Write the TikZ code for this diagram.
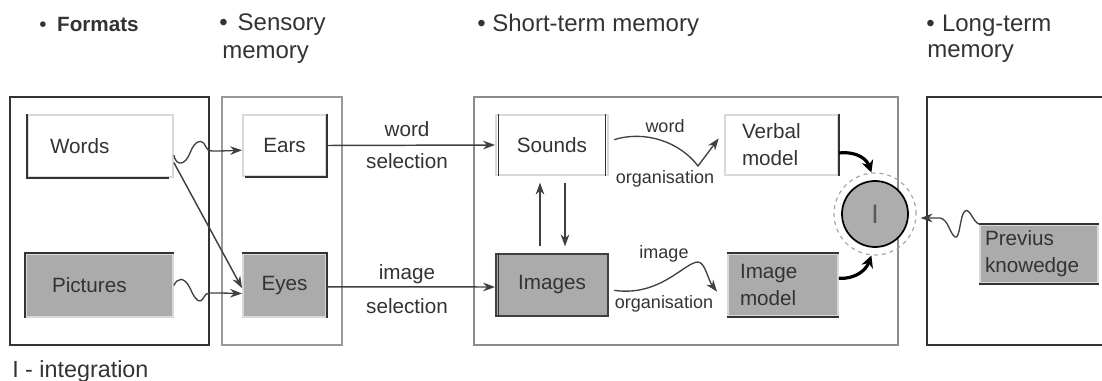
\documentclass[tikz,border=0pt]{standalone}
\usepackage{fontspec}
\setmainfont{Liberation Sans}
\usetikzlibrary{arrows.meta}
\begin{document}
\begin{tikzpicture}[x=0.75pt,y=-0.75pt,
  title/.style={text=black!80, inner sep=0pt, anchor=base west, font=\fontsize{18}{21}\selectfont},
  box/.style 2 args={rectangle, minimum width=#1*0.75pt, minimum height=#2*0.75pt, inner sep=0pt,
     text=black!80, font=\fontsize{15.5}{20.25}\selectfont, draw=black!15, line width=1.4pt},
  shaded/.style={fill=black!33},
  dk/.style={draw=black!80, line width=1.3pt},
  lbl/.style={text=black!80, inner sep=0pt, font=\fontsize{15.5}{18}\selectfont},
  slbl/.style={text=black!80, inner sep=0pt, font=\fontsize{13.5}{16}\selectfont},
  arr/.style={draw=black!75, line width=1.1pt, -{Stealth[length=9pt,width=6.5pt]}},
  wave/.style={draw=black!75, line width=1pt, -{Stealth[length=9pt,width=6.5pt]}},
  thick arr/.style={draw=black, line width=2.4pt, -{Stealth[length=9pt,width=9pt]}}
]
\useasboundingbox (0,0) rectangle (1102,381);

% titles
\node[title, font=\fontsize{15.5}{18}\selectfont] (tfmt) at (39,32) {•\hspace{8pt}\textbf{Formats}};
\node[title] (tsen) at (219,31) {•\hspace{7.5pt}Sensory};
\node[title] (tsen2) at (222,59) {memory};
\node[title] (tstm) at (477,32) {•\hspace{5pt}Short-term memory};
\node[title] (tltm) at (926,32) {•\hspace{5.5pt}Long-term};
\node[title] (tltm2) at (927,58) {memory};
\node[title, font=\fontsize{17.5}{20}\selectfont] (integ) at (12,377) {I - integration};

% frames
\draw[draw=black!80, line width=1.3pt] (10,97) rectangle (209,345);
\draw[draw=black!40, line width=1pt] (222,97) rectangle (342,345);
\draw[draw=black!45, line width=1.1pt] (474,97) rectangle (898,345);
\draw[draw=black!80, line width=1.3pt] (1102,97) -- (927,97) -- (927,345) -- (1102,345);

% formats
\node[box={145}{62}, align=left, inner xsep=16.5pt, text width=75.75pt] (words) at (100.5,146) {Words};
\draw[dk] (words.north west) -- (words.south west) -- ([xshift=-4pt]words.south east);
\node[box={147}{63}, shaded, align=left, inner xsep=19.5pt, text width=71.25pt] (pictures) at (99.5,285.5) {Pictures};
\draw[dk] (pictures.south west) -- (pictures.north west) -- (pictures.north east);

% sensory
\node[box={83}{61}] (ears) at (284.5,145.5) {Ears};
\draw[dk] (ears.north east) -- (ears.south east) -- ([xshift=2pt]ears.south west);
\node[box={83}{63}, shaded] (eyes) at (284.5,285.5) {Eyes};
\draw[dk] (eyes.north west) -- (eyes.north east) -- (eyes.south east);

% short-term
\node[box={112}{60}] (sounds) at (552,145) {Sounds};
\draw[dk] ([xshift=2.5pt]sounds.north west) -- ([xshift=2.5pt]sounds.south west);
\draw[dk] ([xshift=-2.5pt]sounds.north east) -- ([xshift=-2.5pt]sounds.south east);
\node[box={112}{62}, shaded, draw=black!75] (images) at (552,285) {Images};
\draw[dk] ([xshift=2.5pt]images.north west) -- ([xshift=2.5pt]images.south west);
\node[box={113}{60}, align=left, inner xsep=12.75pt, text width=59.25pt] (verbal) at (781.5,145) {Verbal\\model};
\draw[dk] (verbal.north east) -- (verbal.south east);
\node[box={110}{62}, shaded, align=left, inner xsep=9pt, text width=64.5pt] (imodel) at (783,285) {Image\\model};
\draw[dk] (imodel.north west) -- (imodel.north east);
\draw[dk] (imodel.south west) -- (imodel.south east);

\node[circle, draw=black!35, dashed, line width=0.9pt, minimum size=82*0.75pt, inner sep=0pt] (ring) at (875,214) {};
\node[circle, fill=black!32, draw=black, line width=1.3pt, minimum size=66*0.75pt, inner sep=0pt,
      font=\fontsize{20}{20}\selectfont, text=black!65] (I) at (875,214) {I};

% long-term
\node[box={118}{58}, shaded, align=left, inner xsep=3.75pt, text width=81pt] (prev) at (1039,254) {Previus\\knowedge};
\draw[dk] (prev.north west) -- (prev.north east);
\draw[dk] (prev.south west) -- (prev.south east);

% connectors formats -> sensory
\draw[wave] ([yshift=-7pt]words.east) .. controls (176,166) and (185,166) .. (190,153)
   .. controls (195,140) and (202,138) .. (206,147) .. controls (208,152) and (212,151) .. (220,151)
   -- ([yshift=-3.5pt]ears.west);
\draw[arr] ([yshift=-12.5pt]words.east) -- ([yshift=-2pt]eyes.west);
\draw[wave] (pictures.east) .. controls (177,278) and (184,276) .. (190,288)
   .. controls (195,300) and (200,305) .. (204,297) .. controls (206,292) and (210,293) .. (220,293)
   -- ([yshift=-6pt]eyes.west);

% sensory -> short-term
\draw[arr] (ears.east) -- (sounds.west);
\node[lbl] (wsel1) at (407,129) {word};
\node[lbl] (wsel2) at (407,161.5) {selection};
\draw[arr] ([yshift=-1pt]eyes.east) -- ([yshift=-1.5pt]images.west);
\node[lbl] (isel1) at (407,274) {image};
\node[lbl] (isel2) at (407,306.5) {selection};

% sounds <-> images
\draw[arr, shorten <=5pt, shorten >=5pt] ([xshift=-9pt]images.north) -- ([xshift=-9pt]sounds.south);
\draw[arr, shorten <=5pt, shorten >=5pt] ([xshift=9.75pt]sounds.south) -- ([xshift=9.75pt]images.north);

% organisation
\draw[wave] ([xshift=4pt,yshift=4pt]sounds.east) .. controls (645,130) and (680,142) .. (698,166)
   -- ([xshift=-4pt,yshift=5pt]verbal.west);
\node[slbl] (wo1) at (665,126) {word};
\node[slbl] (wo2) at (665,178.5) {organisation};
\draw[wave] ([xshift=4pt,yshift=-4pt]images.east) .. controls (660,297) and (685,262) .. (698,262)
   .. controls (705,262) and (708,280) .. ([xshift=-7.5pt,yshift=-5pt]imodel.west);
\node[slbl] (io1) at (664,254) {image};
\node[slbl] (io2) at (664,303.5) {organisation};

% integration
\draw[thick arr] ([yshift=-6pt]verbal.east) .. controls (858,151) and (867,160) .. (ring.95);
\draw[thick arr] ([yshift=5pt]imodel.east) .. controls (856,279) and (866,270) .. (ring.-95);
\draw[wave, shorten >=3pt] (prev.north west) .. controls (973,222) and (970,208) .. (965,211)
   .. controls (960,214) and (960,240) .. (955,237)
   .. controls (950,234) and (948,219) .. (940,218)
   -- ([yshift=-3pt]ring.east);
\end{tikzpicture}
\end{document}
